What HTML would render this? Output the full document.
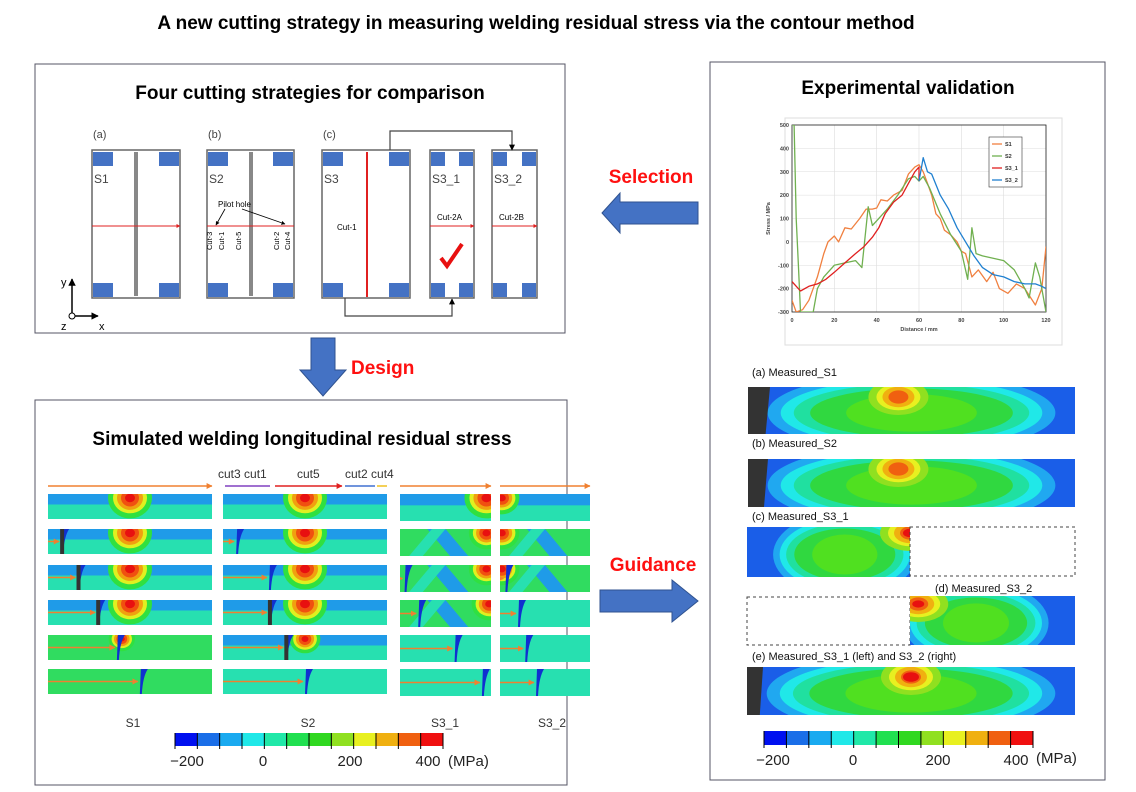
<!DOCTYPE html>
<html><head><meta charset="utf-8"><style>
html,body{margin:0;padding:0;background:#fff;}
svg{display:block;font-family:"Liberation Sans",Arial,sans-serif;}
</style></head><body>
<svg id="root" width="1136" height="792" viewBox="0 0 1136 792" xmlns="http://www.w3.org/2000/svg">
<defs>
<marker id="ah" viewBox="0 0 10 10" refX="9" refY="5" markerWidth="5" markerHeight="5" orient="auto"><path d="M0,0L10,5L0,10z" fill="#000"/></marker>
<marker id="ahr" viewBox="0 0 10 10" refX="9" refY="5" markerWidth="4" markerHeight="4" orient="auto"><path d="M0,0L10,5L0,10z" fill="#e02020"/></marker>
<marker id="aho" viewBox="0 0 10 10" refX="9" refY="5" markerWidth="4" markerHeight="4" orient="auto"><path d="M0,0L10,5L0,10z" fill="#f08030"/></marker>
</defs>
<text x="536" y="29" text-anchor="middle" font-size="19" font-weight="bold">A new cutting strategy in measuring welding residual stress via the contour method</text>

<rect x="35" y="64" width="530" height="269" fill="none" stroke="#556" stroke-width="1"/>
<text x="310" y="99" text-anchor="middle" font-size="19" font-weight="bold">Four cutting strategies for comparison</text>
<g id="box1"></g>

<rect x="35" y="400" width="532" height="385" fill="none" stroke="#556" stroke-width="1"/>
<text x="302" y="445" text-anchor="middle" font-size="19" font-weight="bold">Simulated welding longitudinal residual stress</text>
<g id="box2"></g>

<rect x="710" y="62" width="395" height="718" fill="none" stroke="#556" stroke-width="1"/>
<text x="908" y="94" text-anchor="middle" font-size="19" font-weight="bold">Experimental validation</text>
<g id="chart"></g>
<g id="box3"></g>

<path d="M602,213 L620,193 L620,202 L698,202 L698,224 L620,224 L620,233 Z" fill="#4472c4" stroke="#2f528f"/>
<text x="651" y="183" text-anchor="middle" font-size="19" font-weight="bold" fill="#ff1010">Selection</text>
<path d="M311,338 L335,338 L335,370 L346,370 L323,396 L300,370 L311,370 Z" fill="#4472c4" stroke="#2f528f"/>
<text x="351" y="374" font-size="19" font-weight="bold" fill="#ff1010">Design</text>
<path d="M600,590 L672,590 L672,580 L698,601 L672,622 L672,612 L600,612 Z" fill="#4472c4" stroke="#2f528f"/>
<text x="653" y="571" text-anchor="middle" font-size="19" font-weight="bold" fill="#ff1010">Guidance</text>
</svg>
<script>
const NS='http://www.w3.org/2000/svg';
function mk(parent,tag,attrs,name){const e=document.createElementNS(NS,tag);for(const k in attrs)e.setAttribute(k,attrs[k]);


parent.appendChild(e);return e;}
function tx(parent,x,y,s,size,extra,name){const e=mk(parent,'text',Object.assign({x:x,y:y,'font-size':size},extra||{}),name);e.textContent=s;return e;}

/* ---------- Box 1 diagrams ---------- */
const b1=document.getElementById('box1');
function plate(x,w,label,squareW){
  mk(b1,'rect',{x:x,y:150,width:w,height:148,fill:'#fff',stroke:'#666','stroke-width':1.5},'plate-'+label);
  const sw=squareW||20;
  [[x+1,152],[x+w-sw-1,152],[x+1,283],[x+w-sw-1,283]].forEach(p=>mk(b1,'rect',{x:p[0],y:p[1],width:sw,height:14,fill:'#4472c4'},'clamp'));
  tx(b1,x+2,183,label,12,{fill:'#444'},'plate-label');
}
plate(92,88,'S1');plate(207,87,'S2');plate(322,88,'S3');plate(430,44,'S3_1',14);plate(492,45,'S3_2',14);
mk(b1,'rect',{x:134,y:152,width:4,height:144,fill:'#888'},'weld-line');
mk(b1,'rect',{x:249,y:152,width:4,height:144,fill:'#888'},'weld-line');
mk(b1,'line',{x1:92,y1:226,x2:180,y2:226,stroke:'#e02020','stroke-width':1,'marker-end':'url(#ahr)'},'cut-line');
mk(b1,'line',{x1:207,y1:226,x2:294,y2:226,stroke:'#e02020','stroke-width':1},'cut-line');
mk(b1,'line',{x1:367,y1:152,x2:367,y2:297,stroke:'#e02020','stroke-width':2},'cut-1-line');
mk(b1,'line',{x1:430,y1:226,x2:474,y2:226,stroke:'#e02020','stroke-width':1,'marker-end':'url(#ahr)'},'cut-2a-line');
mk(b1,'line',{x1:492,y1:226,x2:537,y2:226,stroke:'#e02020','stroke-width':1,'marker-end':'url(#ahr)'},'cut-2b-line');
tx(b1,93,138,'(a)',11,{fill:'#444'},'label-a');tx(b1,208,138,'(b)',11,{fill:'#444'},'label-b');tx(b1,323,138,'(c)',11,{fill:'#444'},'label-c');
tx(b1,337,230,'Cut-1',8,{},'cut-1-label');tx(b1,437,220,'Cut-2A',8,{},'cut-2a-label');tx(b1,499,220,'Cut-2B',8,{},'cut-2b-label');
tx(b1,218,207,'Pilot hole',8,{},'pilot-hole-label');
mk(b1,'line',{x1:225,y1:209,x2:216,y2:225,stroke:'#000','stroke-width':0.8,'marker-end':'url(#ah)'},'pilot-arrow');
mk(b1,'line',{x1:242,y1:209,x2:285,y2:224,stroke:'#000','stroke-width':0.8,'marker-end':'url(#ah)'},'pilot-arrow');
[['Cut-3',212],['Cut-1',224],['Cut-5',241],['Cut-2',279],['Cut-4',290]].forEach(c=>{
  tx(b1,0,0,c[0],7.5,{transform:'translate('+c[1]+',250) rotate(-90)'},'cut-label');});
mk(b1,'path',{d:'M390,150 V131 H512 V150',fill:'none',stroke:'#444','stroke-width':1.2,'marker-end':'url(#ah)'},'connector-top');
mk(b1,'path',{d:'M345,298 V316 H452 V299',fill:'none',stroke:'#444','stroke-width':1.2,'marker-end':'url(#ah)'},'connector-bottom');
mk(b1,'path',{d:'M441,258 L447,266 L462,244',fill:'none',stroke:'#e81010','stroke-width':4},'check-mark');
mk(b1,'line',{x1:72,y1:314,x2:72,y2:279,stroke:'#000','stroke-width':1.5,'marker-end':'url(#ah)'},'y-axis-arrow');
mk(b1,'line',{x1:75,y1:316,x2:98,y2:316,stroke:'#000','stroke-width':1.5,'marker-end':'url(#ah)'},'x-axis-arrow');
mk(b1,'circle',{cx:72,cy:316,r:3,fill:'#fff',stroke:'#000'},'z-axis-origin');
tx(b1,61,286,'y',11,{},'y-label');tx(b1,61,330,'z',11,{},'z-label');tx(b1,99,330,'x',11,{},'x-label');

/* ---------- colour scale ---------- */
const cmap=['#0010f0','#1a6ee8','#1aaaf0','#20e8e8','#20e8a8','#20e050','#30d820','#90e020','#e8f020','#f0b010','#f06010','#f01010'];
function colorbar(g,x,y,w,h,labs){
  const sw=w/12;
  cmap.forEach((c,i)=>mk(g,'rect',{x:x+i*sw,y:y,width:sw+0.5,height:h,fill:c},'colorbar-step'));
  for(let i=0;i<=12;i++)mk(g,'line',{x1:x+i*sw,y1:y,x2:x+i*sw,y2:y+h+3,stroke:'#000','stroke-width':1},'colorbar-tick');
  labs.forEach(l=>tx(g,l[1],y+h+20,l[0],15,{'text-anchor':'middle',fill:'#222'},'colorbar-label'));
}

/* ---------- Simulated panels ---------- */
const b2=document.getElementById('box2');
function simPanel(x,y,w,h,o){
  const s=mk(b2,'svg',{x:x,y:y,width:w,height:h,overflow:'hidden'},'sim-panel');
  mk(s,'rect',{x:0,y:0,width:w,height:h,fill:o.green?'#30dc60':'#27e0b0'},'panel-bg');
  if(o.band)mk(s,'rect',{x:0,y:0,width:w,height:h*0.42,fill:'#1f9be8'},'compressive-band');
  if(o.diag){mk(s,'path',{d:`M${w*0.3},0 L${w*0.55},${h} L${w*0.75},${h} L${w*0.5},0Z`,fill:'#1f9be8'},'diag-band');
    mk(s,'path',{d:`M${w*0.1},${h} L${w*0.35},0 L${w*0.5},0 L${w*0.25},${h}Z`,fill:'#27e0b0'},'diag-band');}
  if(o.hot!=null){const hx=o.hot*w,k=o.hs||1;
    [['#30e040',22,24],['#e0f020',17,18],['#f0a010',13,14],['#f05010',9,10],['#e81010',5,5]].forEach(e=>
      mk(s,'ellipse',{cx:hx,cy:4,rx:e[1]*k,ry:e[2]*k*0.85,fill:e[0]},'hotspot'));}
  if(o.cut!=null){const cx=o.cut*w;
    mk(s,'path',{d:`M${cx},${h} L${cx+1},0 L${cx+8},0 Q${cx+3},${h*0.3} ${cx+2},${h}Z`,fill:'#1030d0'},'cut-front');
    if(o.dark)mk(s,'rect',{x:cx-1,y:0,width:o.dark,height:h,fill:'#333'},'cut-gap');
    mk(s,'line',{x1:0,y1:h/2,x2:cx-2,y2:h/2,stroke:'#f08030','stroke-width':1.5,'marker-end':'url(#aho)'},'cut-arrow');}
}
const rowY=[494,529,565,600,635,669];
const rowH=25;
const s1Cut=[null,0.08,0.18,0.3,0.42,0.56];
const s1Hot=[0.5,0.5,0.5,0.5,0.45,null];
rowY.forEach((y,i)=>simPanel(48,y,164,rowH,{band:i<4,hot:s1Hot[i],hs:i==4?0.6:1,cut:s1Cut[i],dark:i>0&&i<4?4:0,green:i>=4}));
const s2Cut=[null,0.08,0.28,0.28,0.38,0.5];
rowY.forEach((y,i)=>simPanel(223,y,164,rowH,{band:i<5,hot:i<5?0.5:null,hs:i==4?0.7:1,cut:s2Cut[i],dark:i>=3&&i<5?4:0}));
rowY.forEach((y,i)=>{simPanel(400,y,91,rowH+2,{band:i==0,diag:i>=1&&i<4,hot:i<3?0.95:(i==3?0.98:null),hs:i==0?1:0.8,cut:i>=2?[0,0,0.05,0.2,0.6,0.9][i]:null,green:i>=1&&i<4});
  simPanel(500,y,90,rowH+2,{band:i==0,diag:i>=1&&i<3,hot:i<3?0.02:null,hs:0.8,cut:i>=2?[0,0,0.06,0.2,0.28,0.4][i]:null,green:i>=1&&i<3});});
mk(b2,'line',{x1:48,y1:486,x2:212,y2:486,stroke:'#f08030','stroke-width':1.5,'marker-end':'url(#aho)'},'s1-cut-arrow');
mk(b2,'line',{x1:400,y1:486,x2:491,y2:486,stroke:'#f08030','stroke-width':1.5,'marker-end':'url(#aho)'},'s3-1-cut-arrow');
mk(b2,'line',{x1:500,y1:486,x2:590,y2:486,stroke:'#f08030','stroke-width':1.5,'marker-end':'url(#aho)'},'s3-2-cut-arrow');
mk(b2,'line',{x1:225,y1:486,x2:270,y2:486,stroke:'#8040c0','stroke-width':1.5},'cut3-arrow');
mk(b2,'line',{x1:275,y1:486,x2:342,y2:486,stroke:'#e02020','stroke-width':1.5,'marker-end':'url(#ahr)'},'cut5-arrow');
mk(b2,'line',{x1:345,y1:486,x2:375,y2:486,stroke:'#4070d0','stroke-width':1.5},'cut2-arrow');
mk(b2,'line',{x1:377,y1:486,x2:387,y2:486,stroke:'#f0c020','stroke-width':1.5},'cut4-arrow');
tx(b2,218,478,'cut3 cut1',12,{fill:'#333'},'cut3-cut1-label');tx(b2,297,478,'cut5',12,{fill:'#333'},'cut5-label');tx(b2,345,478,'cut2 cut4',12,{fill:'#333'},'cut2-cut4-label');
[['S1',133],['S2',308],['S3_1',445],['S3_2',552]].forEach(l=>tx(b2,l[1],727,l[0],12,{'text-anchor':'middle',fill:'#333'},'column-label'));
colorbar(b2,175,733,268,13,[['\u2212200',187],['0',263],['200',350],['400',428]]);
tx(b2,448,766,'(MPa)',15,{fill:'#222'},'unit-label');

/* ---------- Line chart ---------- */
const cg=document.getElementById('chart');
const xTicks=[0,20,40,60,80,100,120];
const yTicks=[-300,-200,-100,0,100,200,300,400,500];
const seriesNames=['S1','S2','S3_1','S3_2'];
const seriesColors=['#f08040','#70b050','#e02020','#2080d0'];
const s1X=[0,2,5,8,12,15,17,20,22,25,28,32,35,38,40,42,45,48,52,55,58,60,62,64,66,68,70,72,75,78,80,82,85,88,92,95,98,102,106,110,115,118,120];
const s1Y=[-250,-300,-290,-250,-150,-50,0,25,0,60,55,100,140,140,145,180,175,200,220,290,320,330,300,250,200,120,100,50,30,0,-40,-50,-150,-120,-170,-130,-200,-220,-180,-200,-270,-200,-20];
const s2X=[0,1,2,3,4,8,10,12,15,20,25,30,33,36,38,40,45,50,55,58,60,62,65,70,75,80,83,84,85,87,90,95,100,105,110,112,115,117,120];
const s2Y=[500,500,100,-100,-300,-300,-300,-200,-150,-100,-90,-80,-110,150,70,90,140,200,270,280,260,280,230,120,30,-40,-160,-50,60,-50,-60,-70,-80,-120,-200,-240,-90,-150,-300];
const s31X=[0,4,8,12,16,20,25,30,34,38,41,44,48,52,55,58,60,60];
const s31Y=[-170,-210,-190,-180,-160,-130,-90,-50,-20,20,60,120,170,200,250,300,320,260];
const s32X=[60,62,64,66,70,74,78,82,86,90,95,100,105,110,115,118,120];
const s32Y=[260,360,300,290,200,140,60,0,-60,-110,-140,-150,-170,-180,-180,-190,-200];
const PX0=792,PX1=1046,PY0=312,PY1=125;
const xs=v=>PX0+(v-0)/(120-0)*(PX1-PX0);
const ys=v=>PY0-(v+300)/800*(PY0-PY1);
mk(cg,'rect',{x:785,y:118,width:277,height:227,fill:'#fff',stroke:'#ddd'},'chart-frame');
xTicks.forEach(t=>{mk(cg,'line',{x1:xs(t),y1:PY0,x2:xs(t),y2:PY1,stroke:'#ddd','stroke-width':0.6},'x-gridline');
  tx(cg,xs(t),PY0+10,String(t),5.5,{'text-anchor':'middle','font-weight':'bold',fill:'#444'},'x-tick-label');});
yTicks.forEach(t=>{mk(cg,'line',{x1:PX0,y1:ys(t),x2:PX1,y2:ys(t),stroke:'#ddd','stroke-width':0.6},'y-gridline');
  tx(cg,PX0-3,ys(t)+2,String(t),5.5,{'text-anchor':'end','font-weight':'bold',fill:'#444'},'y-tick-label');});
mk(cg,'rect',{x:PX0,y:PY1,width:PX1-PX0,height:PY0-PY1,fill:'none',stroke:'#222','stroke-width':0.8},'plot-border');
tx(cg,(PX0+PX1)/2,PY0+19,'Distance / mm',5.5,{'text-anchor':'middle','font-weight':'bold',fill:'#444'},'x-axis-title');
tx(cg,0,0,'Stress / MPa',5.5,{'text-anchor':'middle','font-weight':'bold',fill:'#444',transform:`translate(770,${(PY0+PY1)/2}) rotate(-90)`},'y-axis-title');
const svgClip=mk(cg,'svg',{x:PX0,y:PY1,width:PX1-PX0,height:PY0-PY1,overflow:'hidden',viewBox:`${PX0} ${PY1} ${PX1-PX0} ${PY0-PY1}`},'plot-area');
[[s1X,s1Y],[s2X,s2Y],[s31X,s31Y],[s32X,s32Y]].forEach((s,i)=>{
  const d=s[0].map((v,j)=>(j?'L':'M')+xs(v).toFixed(1)+','+ys(s[1][j]).toFixed(1)).join(' ');
  mk(svgClip,'path',{d:d,fill:'none',stroke:seriesColors[i],'stroke-width':1.3,'stroke-linejoin':'round'},'series-'+seriesNames[i].toLowerCase().replace('_','-'));});
mk(cg,'rect',{x:989,y:137,width:33,height:50,fill:'#fff',stroke:'#333','stroke-width':0.6},'legend-box');
seriesNames.forEach((n,i)=>{const ly=144+i*12;
  mk(cg,'line',{x1:992,y1:ly,x2:1002,y2:ly,stroke:seriesColors[i],'stroke-width':1.3},'legend-swatch');
  tx(cg,1005,ly+2,n,5.5,{'font-weight':'bold',fill:'#333'},'legend-entry');});

/* ---------- Measured panels ---------- */
const b3=document.getElementById('box3');
function measPanel(x,y,w,h,o){
  const s=mk(b3,'svg',{x:x,y:y,width:w,height:h,overflow:'hidden'},'measured-panel');
  mk(s,'rect',{x:0,y:0,width:w,height:h,fill:'#1a5ee8'},'panel-bg');
  const cx=o.cx*w;
  [['#20a8f0',0.44,0.85],['#20e8e8',0.40,0.72],['#20e0a0',0.36,0.62],['#30d840',0.31,0.52],['#50e020',0.2,0.4]].forEach(e=>
    mk(s,'ellipse',{cx:cx,cy:h*0.55,rx:w*e[1],ry:h*e[2],fill:e[0]},'stress-zone'));
  if(o.hx!=null){const hx=o.hx*w;
    [['#90e020',30,30],['#e8f020',22,22],['#f0b010',16,17],['#f06010',10,11],['#e81010',o.red||0,o.red||0]].forEach(e=>
      mk(s,'ellipse',{cx:hx,cy:o.hy||10,rx:e[1],ry:e[2]*0.6,fill:e[0]},'hotspot'));}
  if(o.dark)mk(s,'path',{d:`M0,0 H${o.dark} L${o.dark*0.8},${h} H0Z`,fill:'#333'},'dark-region');
}
tx(b3,752,376,'(a) Measured_S1',11,{fill:'#111'},'label-measured-s1');
measPanel(748,387,327,47,{cx:0.5,hx:0.46,dark:22});
tx(b3,752,447,'(b) Measured_S2',11,{fill:'#111'},'label-measured-s2');
measPanel(748,459,327,48,{cx:0.5,hx:0.46,dark:20});
tx(b3,752,520,'(c) Measured_S3_1',11,{fill:'#111'},'label-measured-s3-1');
measPanel(747,527,163,50,{cx:0.6,hx:1.0,hy:6,red:7});
mk(b3,'rect',{x:910,y:527,width:165,height:49,fill:'none',stroke:'#444','stroke-dasharray':'3,3'},'dashed-outline');
tx(b3,935,592,'(d) Measured_S3_2',11,{fill:'#111'},'label-measured-s3-2');
mk(b3,'rect',{x:747,y:597,width:163,height:48,fill:'none',stroke:'#444','stroke-dasharray':'3,3'},'dashed-outline');
measPanel(910,596,165,49,{cx:0.4,hx:0.05,hy:8,red:6});
tx(b3,752,660,'(e) Measured_S3_1 (left) and S3_2 (right)',11,{fill:'#111'},'label-measured-combined');
measPanel(747,667,328,48,{cx:0.5,hx:0.5,red:8,dark:16});
colorbar(b3,764,731,269,14,[['\u2212200',773],['0',853],['200',938],['400',1016]]);
tx(b3,1036,763,'(MPa)',15,{fill:'#222'},'unit-label');
</script>
</body></html>
